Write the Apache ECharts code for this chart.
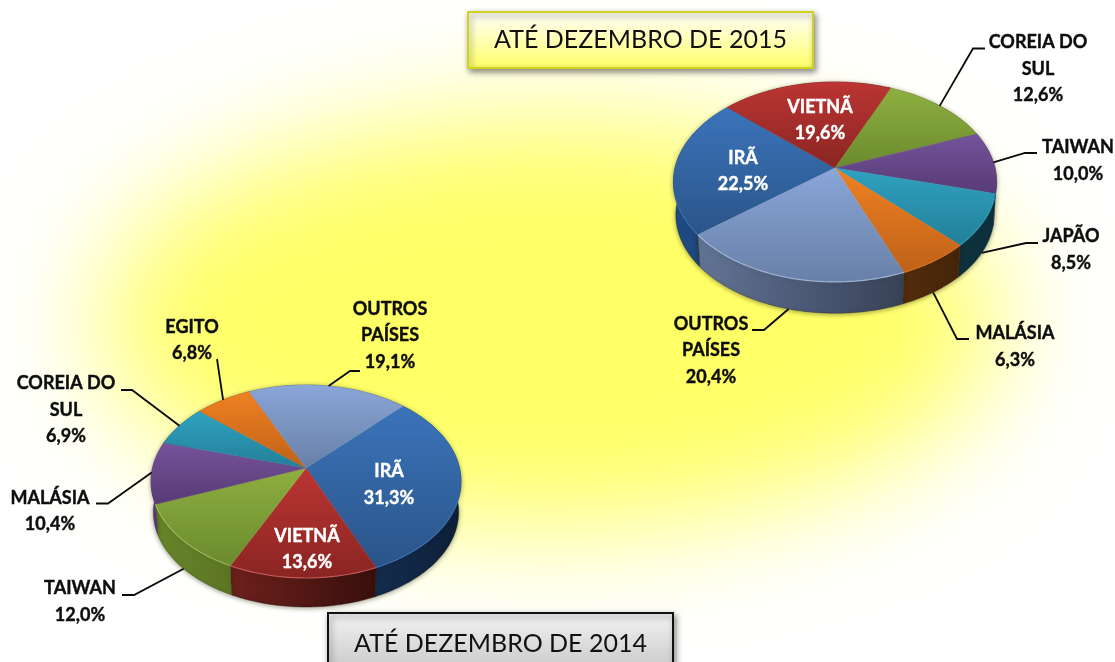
<!DOCTYPE html>
<html><head><meta charset="utf-8">
<style>html,body{margin:0;padding:0;background:#fff}#c{width:1115px;height:662px}</style>
<script src="https://cdn.jsdelivr.net/npm/echarts@6/dist/echarts.min.js"></script>
</head><body><div id="c"></div>
<script>
// ---- data ----
const names2015 = ['IRÃ', 'VIETNÃ', 'COREIA DO\nSUL', 'TAIWAN', 'JAPÃO', 'MALÁSIA', 'OUTROS\nPAÍSES'];
const values2015 = [22.5, 19.6, 12.6, 10.0, 8.5, 6.3, 20.4];
const names2014 = ['IRÃ', 'VIETNÃ', 'TAIWAN', 'MALÁSIA', 'COREIA DO\nSUL', 'EGITO', 'OUTROS\nPAÍSES'];
const values2014 = [31.3, 13.6, 12.0, 10.4, 6.9, 6.8, 19.1];
const title2015 = 'ATÉ DEZEMBRO DE 2015';
const title2014 = 'ATÉ DEZEMBRO DE 2014';

// ---- styles & layout ----
const palette = [
  {top:['#3b74bb','#2a5488'], side:['#1f4c85','#0e2038'], rim:'#3f78bf'},
  {top:['#bb3533','#8a2522'], side:['#8a2a25','#1a0504'], rim:'#d8696a'},
  {top:['#8eaf40','#6b8a2e'], side:['#688529','#3a4819'], rim:'#a9c75f'},
  {top:['#75549b','#573a75'], side:['#5a3a80','#3f2a5c'], rim:'#75549b'},
  {top:['#2fa2c1','#237f97'], side:['#0f3a48','#0d303c'], rim:'#2fa2c1'},
  {top:['#ef8123','#bf6118'], side:['#8a4a14','#3d2008'], rim:'#e07a28'},
  {top:['#8aa6d8','#6880a8'], side:['#66799c','#262b3c'], rim:'#b4c8ea'}
];
const geom2015 = {cx:835, cy:168, R:160, S:98, p:0.14, depth:33, shrink:0.985, startAngle:231.5};
const geom2014 = {cx:306, cy:468, R:153.5, S:94.6, p:0.14, depth:30.6, shrink:0.985, startAngle:44};
// label: text centre; elbow/end: leader line bend and tail; inside labels have no leader
const layout2015 = [
  {x:743, y:171, inside:true},
  {x:820, y:120, inside:true},
  {x:1038, y:69, elbow:[973,48.5], end:[985,48.5]},
  {x:1078, y:160.5, elbow:[1025,153], end:[1037,153]},
  {x:1071, y:249.5, elbow:[1026,243], end:[1038,243]},
  {x:1015, y:346.5, elbow:[957,339], end:[969,339]},
  {x:711, y:350.5, elbow:[764,330], end:[752,330]}
];
const layout2014 = [
  {x:389, y:484.5, inside:true},
  {x:307, y:549, inside:true},
  {x:80, y:601.5, elbow:[134,595], end:[122,595]},
  {x:50, y:511, elbow:[108,503.5], end:[96,503.5]},
  {x:66, y:410, elbow:[132,390], end:[121,390]},
  {x:192, y:340, elbow:[217,359], end:[217,359]},
  {x:390, y:335.5, elbow:[350,371], end:[360,371]}
];
const FONT = 'Lato, "Open Sans", sans-serif';

function project(g, deg, lower) {
  const a = deg * Math.PI / 180, u = Math.sin(a), v = -Math.cos(a), w = 1 - g.p * v;
  const X = g.R * u / w, Y = g.S * v / w;
  return lower ? [g.cx + X * g.shrink, g.cy + g.depth + Y * g.shrink]
               : [g.cx + X, g.cy + Y];
}
function pieSeries(names, values, g, layout) {
  const total = values.reduce((a, b) => a + b, 0);
  const starts = [];
  values.reduce((acc, v, i) => { starts[i] = acc; return acc + v / total * 360; }, g.startAngle);
  return {
    type: 'custom', coordinateSystem: 'none', silent: true, z: 3,
    data: values,
    renderItem(params, api) {
      const i = params.dataIndex, v = api.value(0);
      const a0 = starts[i], a1 = a0 + v / total * 360, mid = (a0 + a1) / 2;
      const c = palette[i], upper = [], lower = [], rim = [];
      for (let a = a0; ; a += 1) {
        const t = Math.min(a, a1);
        upper.push(project(g, t));
        lower.push(project(g, t, true));
        if (-Math.cos(t * Math.PI / 180) > 0.3) rim.push(project(g, t));
        if (t >= a1) break;
      }
      const topFill = new echarts.graphic.LinearGradient(0, 0, 0, 1,
        [{offset:0, color:c.top[0]}, {offset:1, color:c.top[1]}]);
      const sideFill = new echarts.graphic.LinearGradient(g.cx - g.R, 0, g.cx + g.R, 0,
        [{offset:0, color:c.side[0]}, {offset:1, color:c.side[1]}], true);
      const children = [
        {type:'polygon', z2:1, shape:{points: upper.concat(lower.slice().reverse())},
         style:{fill:sideFill, stroke:c.side[1], lineWidth:0.4, shadowBlur:5, shadowColor:'rgba(40,40,0,0.45)', shadowOffsetY:1}},
        {type:'polygon', z2:2, shape:{points: [[g.cx, g.cy]].concat(upper)},
         style:{fill:topFill, stroke:topFill, lineWidth:0.5}}
      ];
      if (rim.length > 1) children.push({type:'polyline', z2:3, shape:{points:rim},
        style:{fill:'none', stroke:c.rim, lineWidth:1.2, opacity:0.7}});
      const L = layout[i];
      const pct = v.toFixed(1).replace('.', ',') + '%';
      if (!L.inside) {
        const below = -Math.cos(mid * Math.PI / 180) > 0.2;
        const pts = [project(g, mid, below), L.elbow, L.end];
        children.push({type:'polyline', z2:4, shape:{points:pts},
          style:{fill:'none', stroke:'#0a0a0a', lineWidth:1.8}});
      }
      const col = L.inside ? '#ffffff' : '#0d0d0d';
      children.push({type:'text', z2:5, style:{
        text: names[i] + '\n' + pct, x:L.x, y:L.y, align:'center', verticalAlign:'middle',
        font:'bold 18px ' + FONT, lineHeight:26.5, fill:col, stroke:col, lineWidth:0.4}});
      return {type:'group', children};
    }
  };
}
function titleBox(text, x, y, w, h, textY, stops, stroke) {
  return [
    {type:'rect', z:10, shape:{x, y, width:w, height:h},
     style:{fill:new echarts.graphic.LinearGradient(0,0,0,1,stops), stroke, lineWidth:2,
            shadowBlur:6, shadowOffsetX:2, shadowOffsetY:3, shadowColor:'rgba(0,0,0,0.45)'}},
    {type:'text', z:11, style:{text, x:x + w / 2, y:textY, align:'center', verticalAlign:'middle',
            font:'25px ' + FONT, fill:'#111111'}}
  ];
}
const chart = echarts.init(document.getElementById('c'), null, {renderer:'canvas'});
chart.setOption({
  animation:false,
  backgroundColor:'#ffffff',
  graphic:{elements:[
    // soft-edged yellow glow: the ellipse itself sits off-canvas, only its blurred shadow shows
    {type:'ellipse', z:0, silent:true, shape:{cx:550 - 3000, cy:322, rx:450, ry:205},
     style:{fill:'#ffff66', shadowColor:'#ffff66', shadowBlur:115, shadowOffsetX:3000}}
  ].concat(
    titleBox(title2015, 468, 12, 345, 56, 39.5,
      [{offset:0,color:'#ffffff'},{offset:1,color:'#ffff66'}], '#d2d21e'),
    titleBox(title2014, 328, 613, 345, 60, 644,
      [{offset:0,color:'#f4f4f4'},{offset:1,color:'#c6c6c6'}], '#111111')
  )},
  series:[
    pieSeries(names2015, values2015, geom2015, layout2015),
    pieSeries(names2014, values2014, geom2014, layout2014)
  ]
});
</script></body></html>
